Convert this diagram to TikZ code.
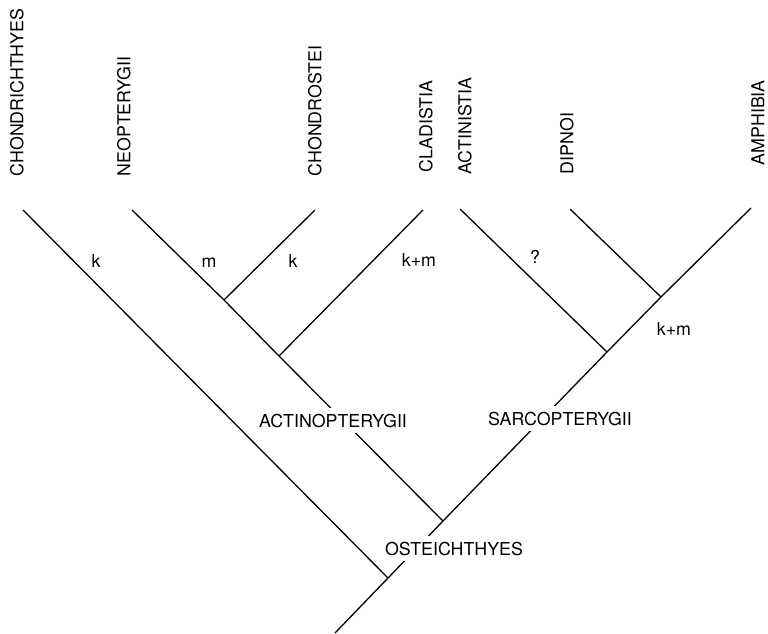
\documentclass[tikz,border=0pt]{standalone}
\usepackage{fontspec}
\setmainfont{TeX Gyre Heros}

\begin{document}
\begin{tikzpicture}[x=1pt, y=-1pt, line width=1.3pt,
	lab/.style={font=\fontsize{17.8}{20}\selectfont},
	taxon/.style={lab, rotate=90, anchor=west, inner sep=0pt},
	clade/.style={lab, anchor=base, fill=white, inner xsep=1pt, inner ysep=6pt},
	trait/.style={lab, anchor=base, inner sep=0pt}]
	\useasboundingbox (0,0) rectangle (768,634);

	% tips
	\coordinate (chon) at (23,210);
	\coordinate (neop) at (132,210);
	\coordinate (chos) at (315,210);
	\coordinate (clad) at (423,210);
	\coordinate (acti) at (460,209);
	\coordinate (dipn) at (570,209);
	\coordinate (amph) at (751,208);

	% branching points
	\coordinate (root) at (335,633);
	\coordinate (gna) at (388,578);
	\coordinate (ost) at (443,521);
	\coordinate (act2) at (279,356);
	\coordinate (act1) at (224,300);
	\coordinate (sar1) at (607,352);
	\coordinate (sar2) at (661,297);

	\path (root) edge (gna);
	\path (gna) edge (ost);
	\path (ost) edge (sar1);
	\path (sar1) edge (sar2);
	\path (sar2) edge (amph);
	\path (gna) edge (chon);
	\path (ost) edge (act2);
	\path (act2) edge (act1);
	\path (act1) edge (neop);
	\path (act1) edge (chos);
	\path (act2) edge (clad);
	\path (sar1) edge (acti);
	\path (sar2) edge (dipn);

	\node[taxon] (n-chon) at (17,177) {CHONDRICHTHYES};
	\node[taxon] (n-neop) at (124,177) {NEOPTERYGII};
	\node[taxon] (n-chos) at (315,177) {CHONDROSTEI};
	\node[taxon] (n-clad) at (426,173) {CLADISTIA};
	\node[taxon] (n-acti) at (465,175) {ACTINISTIA};
	\node[taxon] (n-dipn) at (567,175) {DIPNOI};
	\node[taxon] (n-amph) at (758,166) {AMPHIBIA};

	\node[trait] (k1) at (96,267) {k};
	\node[trait] (m1) at (209,267) {m};
	\node[trait] (k2) at (293,267) {k};
	\node[trait] (km1) at (419,266) {k+m};
	\node[trait] (q) at (535,263) {?};
	\node[trait] (km2) at (674,335) {k+m};

	\node[clade] (l-act) at (333,427) {ACTINOPTERYGII};
	\node[clade] (l-sar) at (560,425) {SARCOPTERYGII};
	\node[clade] (l-ost) at (454,555) {OSTEICHTHYES};
\end{tikzpicture}
\end{document}
